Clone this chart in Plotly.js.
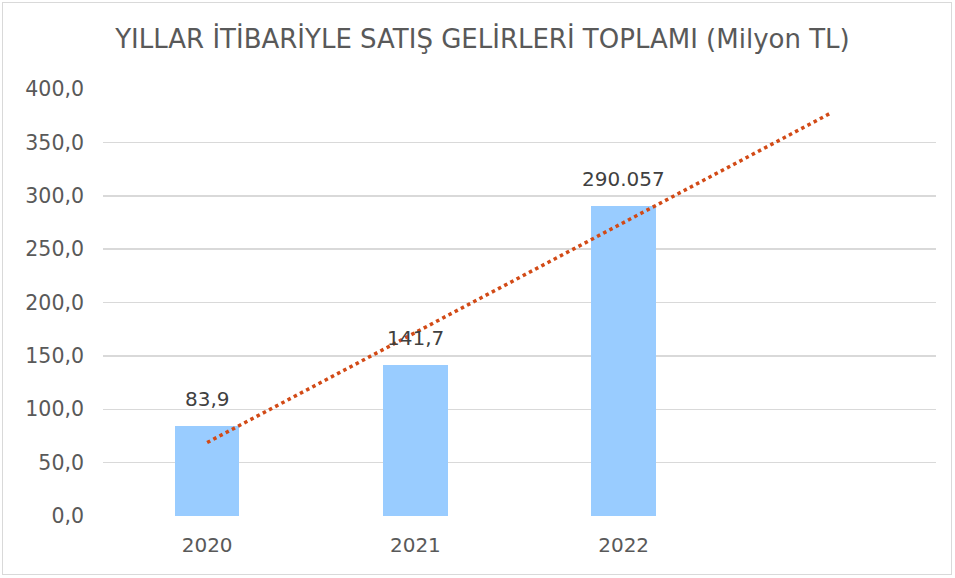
<!DOCTYPE html>
<html><head><meta charset="utf-8">
<script src="https://cdn.plot.ly/plotly-3.0.1.min.js"></script>
<style>
html,body{margin:0;padding:0;background:#fff;}
#frame{position:absolute;left:2px;top:2px;width:950px;height:573px;border:1px solid #d9d9d9;box-sizing:border-box;}
#chart{position:absolute;left:0;top:0;width:955px;height:578px;}
</style></head>
<body><div id="frame"></div><div id="chart"></div>
<script>
const years = ['2020','2021','2022'];
const xPos = [1,2,3];
const sales = [83.9, 141.7, 290.057];
const labels = ['83,9','141,7','290.057'];
const trendX = [1, 4];
const trendY = [68.8, 378.0];
const yTicks = [0,50,100,150,200,250,300,350,400];
const yTickText = ['0,0','50,0','100,0','150,0','200,0','250,0','300,0','350,0','400,0'];

const font = 'DejaVu Sans, sans-serif';
const data = [
  {type:'bar', x:xPos, y:sales, marker:{color:'#99CCFF'}, width:0.31, hoverinfo:'none'},
  {type:'scatter', mode:'lines', x:trendX, y:trendY,
   line:{color:'#D24A16', width:3.5, dash:'dot'}, hoverinfo:'none'}
];
const annotations = xPos.map((x,i)=>({x:x, y:sales[i], text:labels[i], showarrow:false,
  xanchor:'center', yanchor:'bottom', yshift:13,
  font:{family:font, size:20, color:'#404040'}}));
const layout = {
  width:955, height:578, showlegend:false,
  paper_bgcolor:'rgba(0,0,0,0)', plot_bgcolor:'rgba(0,0,0,0)',
  margin:{l:103, r:19, t:89, b:62},
  annotations:annotations,
  title:{text:'YILLAR İTİBARİYLE SATIŞ GELİRLERİ TOPLAMI (Milyon TL)', x:0.5052, xanchor:'center', y:0.932, yanchor:'middle',
         font:{family:font, size:26, color:'#595959'}},
  xaxis:{range:[0.5,4.5], tickvals:xPos, ticktext:years, showgrid:false, zeroline:false,
         showline:false, ticks:'', ticklabelstandoff:15, tickfont:{family:font, size:20, color:'#595959'}},
  yaxis:{range:[0,400], tickvals:yTicks, ticktext:yTickText, showgrid:true, gridcolor:'#d9d9d9', gridwidth:1.5,
         zeroline:false, showline:false, ticks:'', ticklabelstandoff:18,
         tickfont:{family:font, size:20.5, color:'#595959'}},
  bargap:0
};
Plotly.newPlot('chart', data, layout, {staticPlot:true});
</script></body></html>
